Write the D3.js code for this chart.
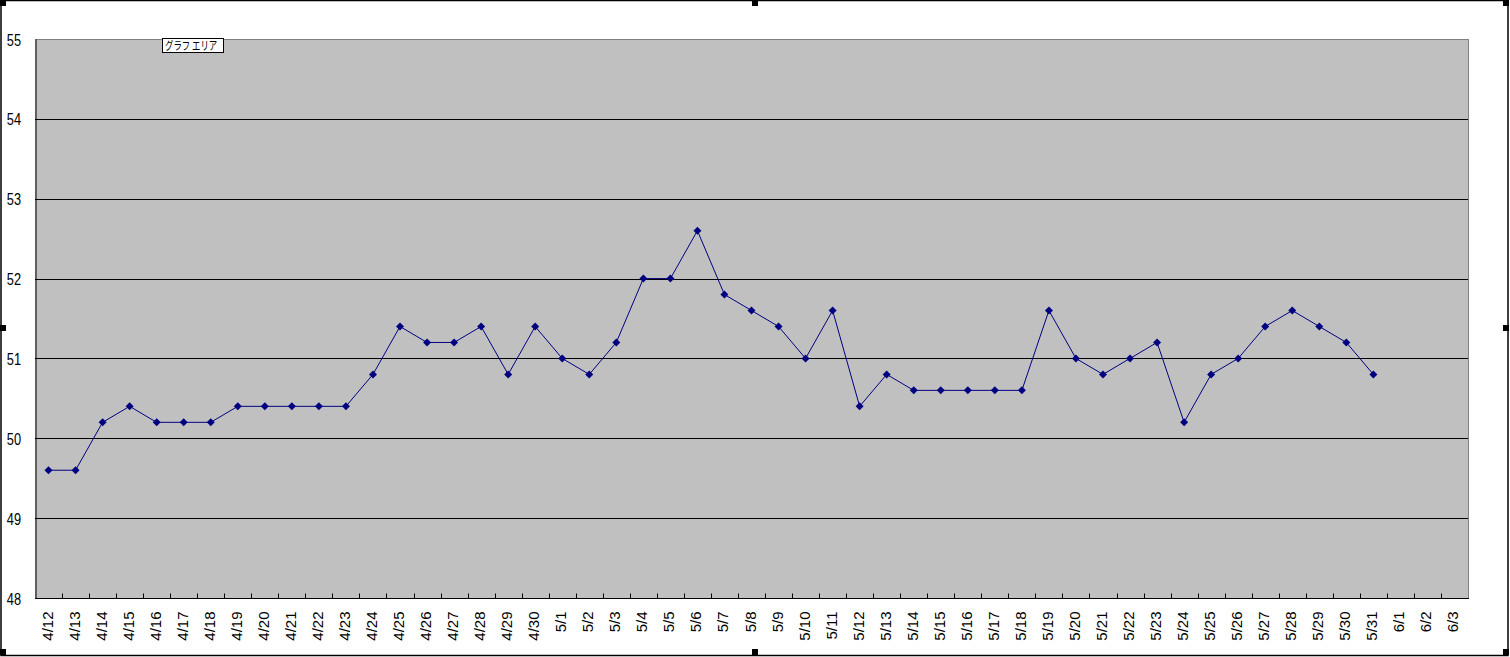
<!DOCTYPE html>
<html><head><meta charset="utf-8">
<script src="https://cdn.jsdelivr.net/npm/d3@7"></script>
<style>html,body{margin:0;padding:0;background:#fff;overflow:hidden}</style>
</head><body>
<svg id="c" width="1510" height="657"></svg>
<script>
const categories = ["4/12","4/13","4/14","4/15","4/16","4/17","4/18","4/19","4/20","4/21","4/22","4/23","4/24","4/25","4/26","4/27","4/28","4/29","4/30","5/1","5/2","5/3","5/4","5/5","5/6","5/7","5/8","5/9","5/10","5/11","5/12","5/13","5/14","5/15","5/16","5/17","5/18","5/19","5/20","5/21","5/22","5/23","5/24","5/25","5/26","5/27","5/28","5/29","5/30","5/31","6/1","6/2","6/3"];
const values = [49.6,49.6,50.2,50.4,50.2,50.2,50.2,50.4,50.4,50.4,50.4,50.4,50.8,51.4,51.2,51.2,51.4,50.8,51.4,51.0,50.8,51.2,52.0,52.0,52.6,51.8,51.6,51.4,51.0,51.6,50.4,50.8,50.6,50.6,50.6,50.6,50.6,51.6,51.0,50.8,51.0,51.2,50.2,50.8,51.0,51.4,51.6,51.4,51.2,50.8,null,null,null];
const yTicks = [48,49,50,51,52,53,54,55];
const tooltipText = "グラフ エリア";

const svg = d3.select("#c");
const L = 35, R = 1468, T = 39, B = 598;
const font = "'Liberation Sans', Arial, sans-serif";

// outer frame
svg.append("rect").attr("x",1).attr("y",0.5).attr("width",1507).attr("height",655)
  .attr("fill","#fff").attr("stroke","#000").attr("stroke-width",1.5);

const x = d3.scaleBand().domain(categories).range([L,R]).padding(0);
const y = d3.scaleLinear().domain([48,55]).range([B,T]);

// plot area
svg.append("rect").attr("x",L).attr("y",T).attr("width",R-L).attr("height",B-T).attr("fill","#c0c0c0");
svg.append("line").attr("x1",L).attr("x2",R).attr("y1",T+0.5).attr("y2",T+0.5).attr("stroke","#808080");
svg.append("line").attr("x1",R+0.5).attr("x2",R+0.5).attr("y1",T).attr("y2",B).attr("stroke","#808080");

// gridlines
svg.append("g").selectAll("line").data(yTicks.filter(d=>d>48 && d<55)).join("line")
  .attr("x1",L).attr("x2",R).attr("y1",d=>Math.round(y(d))+0.5).attr("y2",d=>Math.round(y(d))+0.5)
  .attr("stroke","#000").attr("stroke-width",1);

// y axis
const yAxis = d3.axisLeft(y).tickValues(yTicks).tickSize(0).tickFormat(d3.format("d"));
const gy = svg.append("g").attr("transform",`translate(${L+0.5},0)`).call(yAxis);
gy.select(".domain").attr("stroke","#000");
gy.selectAll(".tick text")
  .attr("x",null).attr("dy",null)
  .attr("text-anchor","end")
  .attr("transform",`translate(${21-(L+0.5)},6) scale(0.8,1)`)
  .attr("font-family",font).attr("font-size",16).attr("fill","#000");

// x axis
const gx = svg.append("g").attr("transform",`translate(0,${B+0.5})`);
gx.append("line").attr("x1",L).attr("x2",R+1).attr("stroke","#000");
const bounds = d3.range(1,categories.length).map(i=>L + x.step()*i);
gx.selectAll("line.tk").data(bounds).join("line").attr("class","tk")
  .attr("x1",d=>Math.round(d)+0.5).attr("x2",d=>Math.round(d)+0.5).attr("y1",0).attr("y2",-5).attr("stroke","#000");
gx.selectAll("text").data(categories).join("text")
  .attr("transform",d=>`translate(${x(d)+x.bandwidth()/2+4},13) rotate(-90)`)
  .attr("text-anchor","end").attr("font-family",font).attr("font-size",15).attr("fill","#000")
  .text(d=>d);

// line + markers
const pts = categories.map((c,i)=>({c,v:values[i]})).filter(d=>d.v!=null);
const line = d3.line().x(d=>x(d.c)+x.bandwidth()/2).y(d=>y(d.v));
svg.append("path").datum(pts).attr("d",line).attr("fill","none").attr("stroke","#000080").attr("stroke-width",1);
svg.append("g").selectAll("path").data(pts).join("path")
  .attr("transform",d=>`translate(${x(d.c)+x.bandwidth()/2},${y(d.v)})`)
  .attr("d","M0,-4L4,0L0,4L-4,0Z").attr("fill","#000080");

// tooltip
const tt = svg.append("g").attr("transform","translate(162,38)");
tt.append("rect").attr("x",0.5).attr("y",0.5).attr("width",61).attr("height",14).attr("fill","#fff").attr("stroke","#000");
tt.append("text").attr("transform","translate(3,12) scale(1,1.4)")
  .attr("font-family","'Noto Sans CJK JP', sans-serif").attr("font-size",8.4)
  .attr("fill","#000").attr("xml:space","preserve").style("white-space","pre").text(tooltipText);

// selection handles
const handles = [[0,0],[752,0],[1503,0],[0,325],[1503,325],[0,649],[752,649],[1503,649]];
svg.append("g").selectAll("rect").data(handles).join("rect")
  .attr("x",d=>d[0]).attr("y",d=>d[1]).attr("width",6).attr("height",6).attr("fill","#000");
</script>
</body></html>
